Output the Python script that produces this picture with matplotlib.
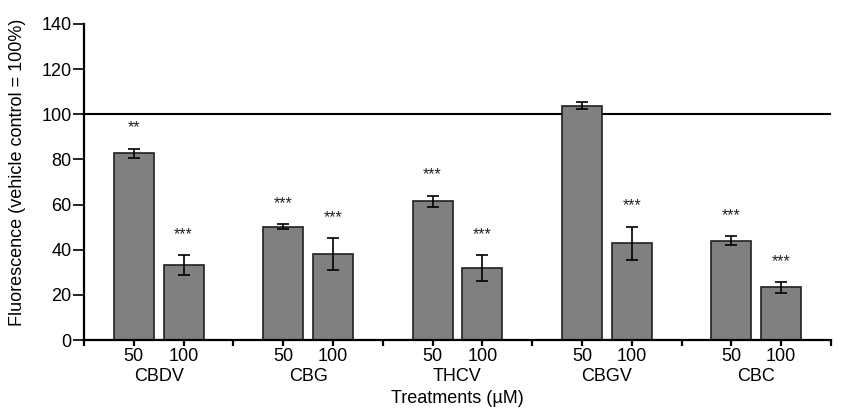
import matplotlib.pyplot as plt
import numpy as np

plt.rcParams['font.family'] = ['Liberation Sans', 'DejaVu Sans']

compounds = ['CBDV', 'CBG', 'THCV', 'CBGV', 'CBC']
doses = ['50', '100']
means = [82.7, 33.1, 50.2, 38.0, 61.4, 31.8, 103.8, 42.8, 44.0, 23.3]
errors = [2.0, 4.4, 1.1, 7.0, 2.6, 5.7, 1.5, 7.4, 1.9, 2.3]
stars = ['**', '***', '***', '***', '***', '***', '', '***', '***', '***']

# bars sit at 1,2 | 4,5 | 7,8 ... group boundaries at multiples of 3
x = np.array([3 * g + d + 1 for g in range(len(compounds)) for d in range(len(doses))])

fs = 13
fig = plt.figure(figsize=(8.45, 4.11), dpi=100)
ax = fig.add_axes([84 / 845, 71 / 411, 747 / 845, 316 / 411])

ax.bar(x, means, width=0.8, color='#808080', edgecolor='#202020', linewidth=1.2, zorder=2)
ax.errorbar(x, means, yerr=errors, fmt='none', ecolor='black', elinewidth=1.2,
            capsize=4.5, capthick=1.2, zorder=3)
ax.axhline(100, color='black', linewidth=1.5, zorder=1)

for xi, m, e, s in zip(x, means, errors, stars):
    if s:
        ax.text(xi, m + e + 6.0, s, ha='center', va='bottom', fontsize=11.5,
                color='#222222')

ax.set_xlim(0, 15)
ax.set_ylim(0, 140)
ax.set_yticks(np.arange(0, 141, 20))
ax.set_xticks(x)
ax.set_xticklabels(doses * len(compounds))
ax.set_xticks(np.arange(0, 16, 3), minor=True)

for g, name in enumerate(compounds):
    ax.text(3 * g + 1.5, -0.117, name, transform=ax.get_xaxis_transform(),
            ha='center', va='center', fontsize=fs)

ax.spines['top'].set_visible(False)
ax.spines['right'].set_visible(False)
ax.spines['left'].set_linewidth(1.6)
ax.spines['bottom'].set_linewidth(1.6)
ax.tick_params(axis='y', direction='out', length=8, width=1.2, pad=1, labelsize=fs)
ax.tick_params(axis='x', which='both', direction='out', length=4.5, width=1.6, pad=1.5, labelsize=fs)

fig.text(18 / 845, 0.58, 'Fluorescence (vehicle control = 100%)', rotation=90,
         ha='center', va='center', fontsize=fs)
fig.text(457 / 845, 13 / 411, 'Treatments (\u00b5M)', ha='center', va='center', fontsize=fs)

plt.savefig('out.png', dpi=100)
